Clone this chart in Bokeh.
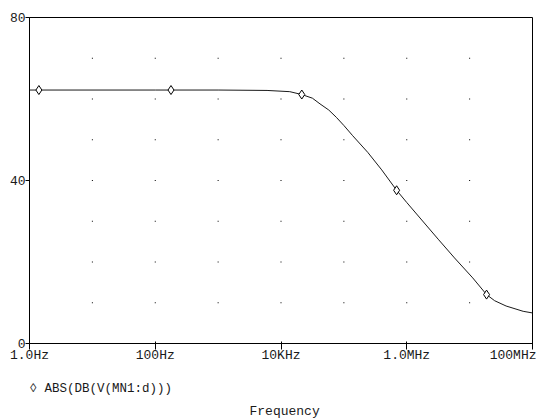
import numpy as np
from bokeh.plotting import figure
from bokeh.models import FixedTicker, Title
from bokeh.embed import file_html
from bokeh.resources import INLINE

# ---- data ----
freq_hz = [1, 100, 1000, 6000, 13800, 21400, 31600, 41700, 57500, 75900,
           100000, 138000, 240000, 400000, 690000, 1.0e6, 3.16e6, 5.75e6,
           1.12e7, 1.86e7, 2.5e7, 3.8e7, 7.1e7, 1e8]
gain_db = [62.2, 62.2, 62.2, 62.1, 61.8, 61.1, 60.2, 58.8, 57.3, 55.5,
           53.5, 51.0, 46.9, 42.6, 37.6, 34.6, 25.6, 21.0,
           16.1, 12.0, 10.5, 9.2, 7.9, 7.5]
marker_hz = [1.41, 178, 21400, 690000, 1.86e7]
marker_db = [62.2, 62.2, 61.1, 37.6, 12.0]
x_ticks = [1, 100, 1e4, 1e6, 1e8]
x_tick_labels = ["1.0Hz", "100Hz", "10KHz", "1.0MHz", "100MHz"]
y_ticks = [0, 40, 80]
grid_x = [10, 100, 1e3, 1e4, 1e5, 1e6, 1e7]
grid_y = [10, 20, 30, 40, 50, 60, 70]
series_name = "ABS(DB(V(MN1:d)))"
legend_symbol = "\u25ca"
x_label = "Frequency"

FONT = "Liberation Mono"
FS = "13px"
TXT = "#1a1a1a"

p = figure(width=536, height=419, x_axis_type="log",
           x_range=(x_ticks[0], x_ticks[-1]), y_range=(y_ticks[0], y_ticks[-1]),
           output_backend="svg", toolbar_location=None,
           min_border_left=29, min_border_right=4, min_border_top=17,
           min_border_bottom=76)
p.grid.visible = False
p.outline_line_color = "black"
p.outline_line_width = 1
p.background_fill_color = "white"
p.border_fill_color = "white"

# x axis
xa = p.xaxis[0]
xa.ticker = FixedTicker(ticks=x_ticks, minor_ticks=[])
xa.major_label_overrides = {t: l for t, l in zip(x_ticks, x_tick_labels)}
xa.major_tick_in = 2
xa.major_tick_out = 6
xa.minor_tick_in = 0
xa.minor_tick_out = 0
xa.major_label_standoff = -2
xa.axis_line_color = "black"
xa.major_tick_line_color = "black"
xa.major_label_text_font = FONT
xa.major_label_text_font_size = FS
xa.major_label_text_color = TXT

# y axis
ya = p.yaxis[0]
ya.ticker = FixedTicker(ticks=y_ticks, minor_ticks=[])
ya.major_tick_in = 0
ya.major_tick_out = 4
ya.minor_tick_in = 0
ya.minor_tick_out = 0
ya.major_label_standoff = 0
ya.major_label_text_font = FONT
ya.major_label_text_font_size = FS
ya.major_label_text_color = TXT
ya.axis_line_color = "black"
ya.major_tick_line_color = "black"

# dotted grid (dots at intersections)
gx, gy = np.meshgrid(grid_x, grid_y)
p.rect(gx.ravel(), gy.ravel(), width=1, height=1, width_units="screen",
       height_units="screen", fill_color="black", line_color=None)

# curve and markers
p.line(freq_hz, gain_db, line_color="#1a1a1a", line_width=1)
p.scatter(marker_hz, marker_db, marker="diamond", size=9,
          fill_color="white", line_color="black", line_width=1)

# legend line (symbol + trace name) and the x axis title, stacked below the axis
p.add_layout(Title(text=legend_symbol + " " + series_name, align="left",
                   offset=0, standoff=28, vertical_align="bottom",
                   text_font=FONT, text_font_size="12.5px",
                   text_font_style="normal", text_color=TXT), "below")
p.add_layout(Title(text=x_label, align="left", offset=220, standoff=-15,
                   vertical_align="bottom",
                   text_font=FONT, text_font_size=FS, text_font_style="normal",
                   text_color=TXT), "below")

open("out.html", "w").write(file_html(p, INLINE))
